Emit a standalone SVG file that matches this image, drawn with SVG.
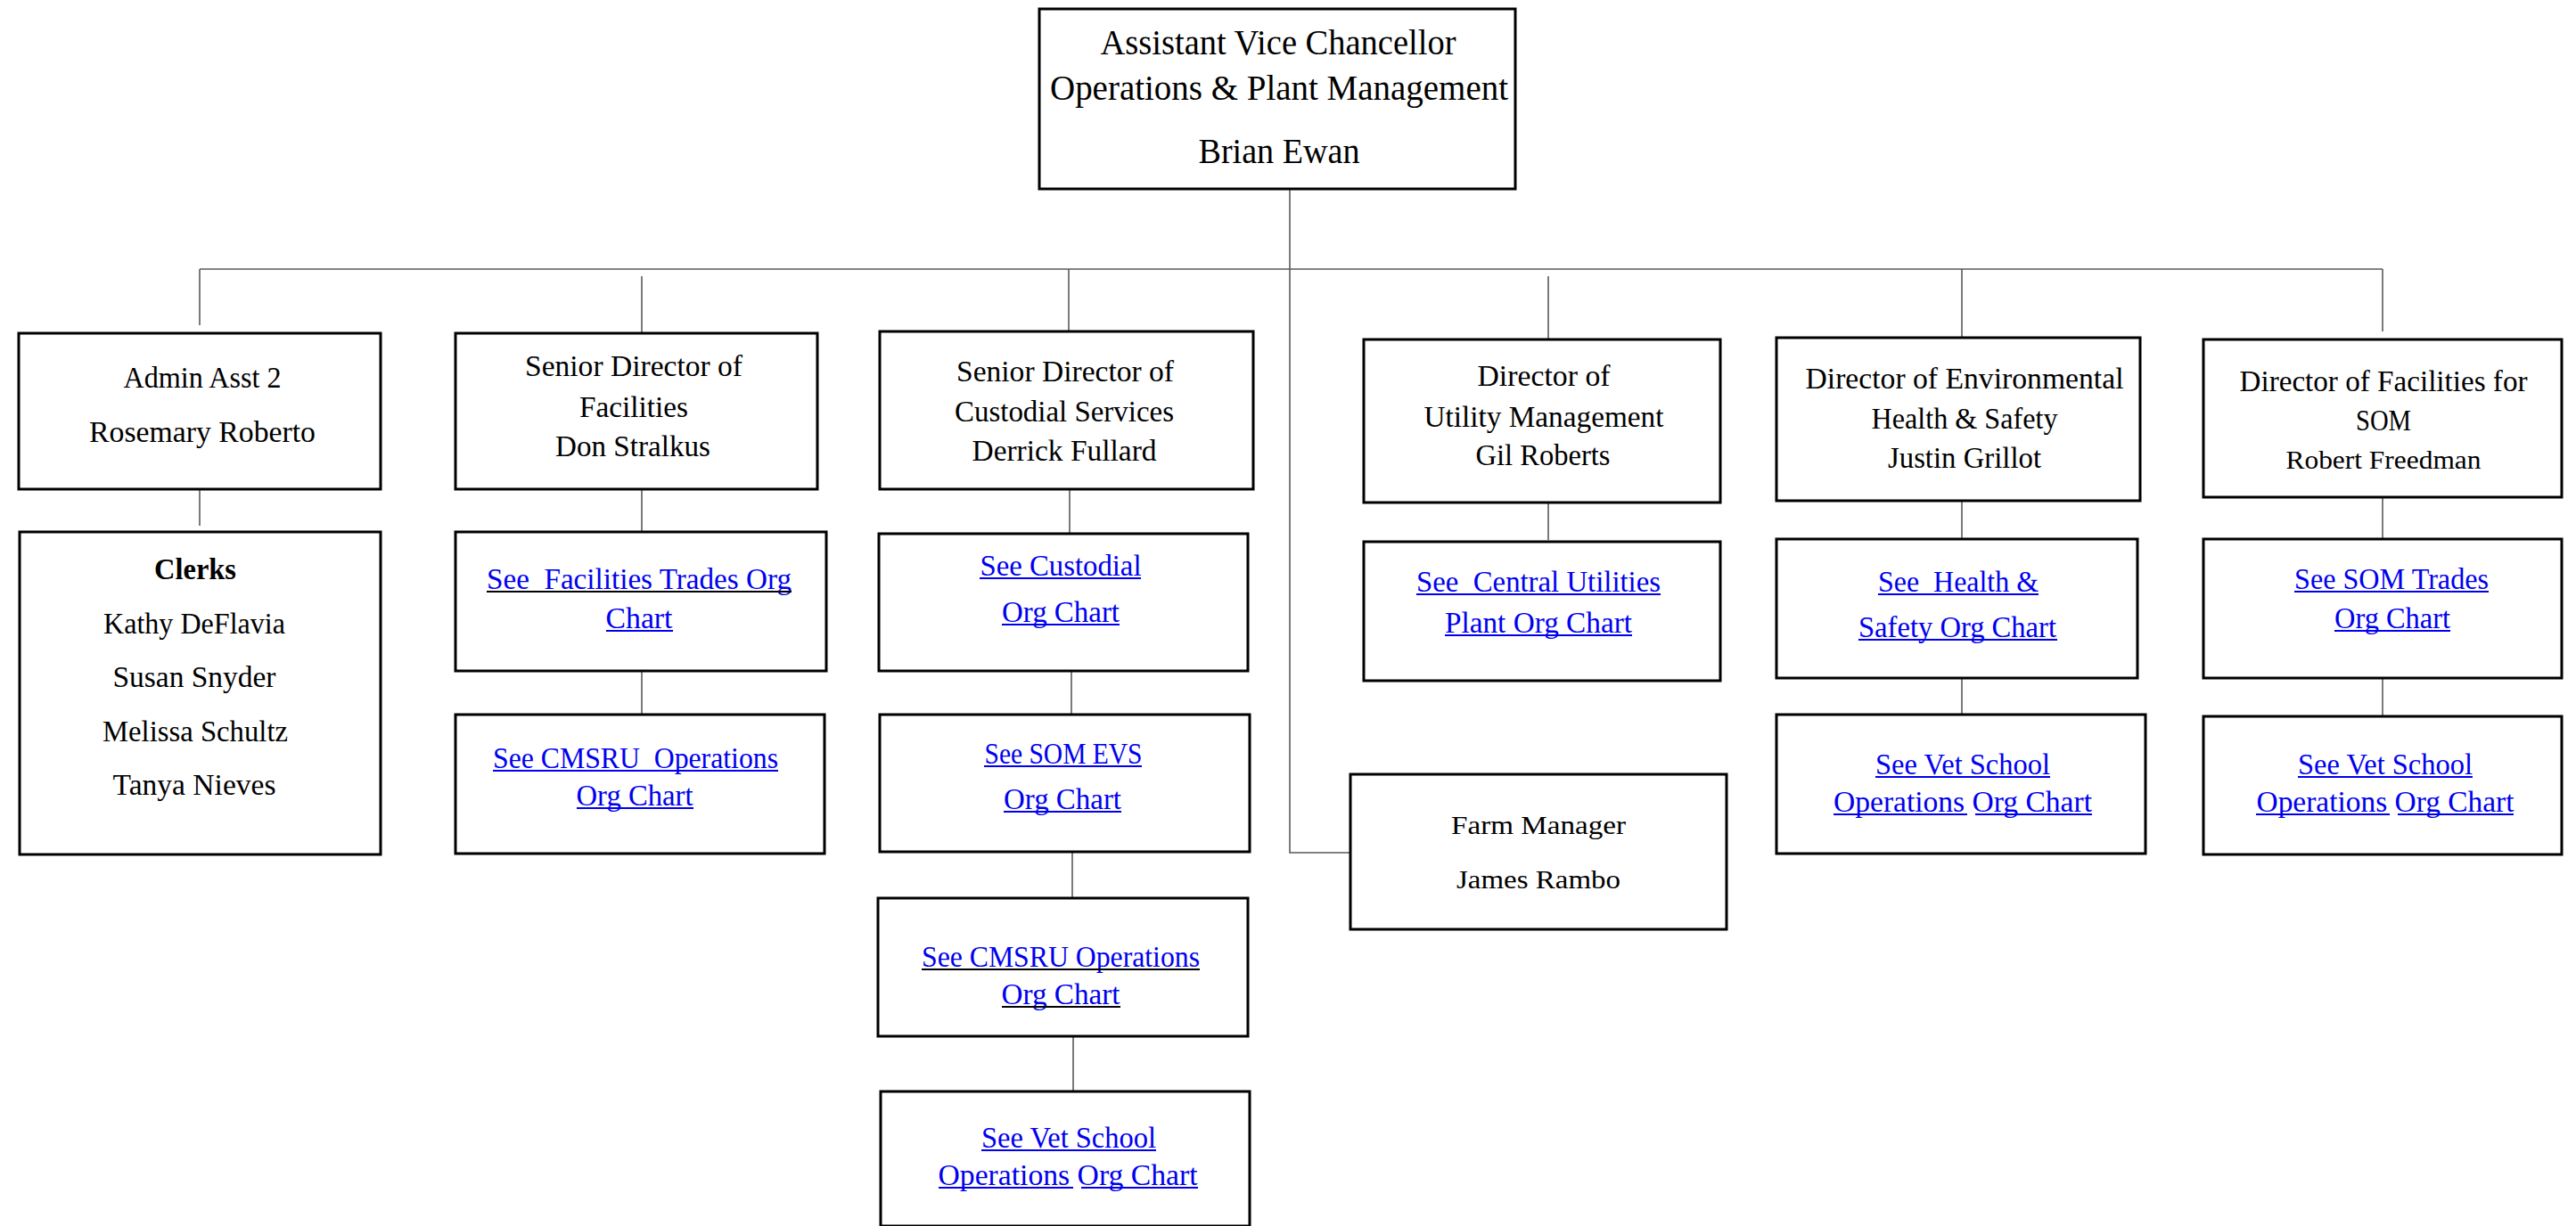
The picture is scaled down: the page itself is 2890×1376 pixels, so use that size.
<svg xmlns="http://www.w3.org/2000/svg" width="2890" height="1376" viewBox="0 0 2890 1376">
<style>
.box{fill:#fff;stroke:#000;stroke-width:3}
.t{font-family:"Liberation Serif","Times New Roman",serif;font-size:33px;text-anchor:middle;fill:#000;white-space:pre}
.lk{fill:#0000ee}
.ul{stroke:#0000ee;stroke-width:2}
.ulk{stroke:#000;stroke-width:2}
.conn{stroke:#5a5a5a;stroke-width:1.6;fill:none}
</style>
<rect width="2890" height="1376" fill="#fff"/>
<g id="connectors" class="conn">
<path d="M1447 212V957H1515"/>
<path d="M224 302H2673"/>
<path d="M224 302V365"/>
<path d="M720 310V374"/>
<path d="M1199 302V372"/>
<path d="M1737 310V381"/>
<path d="M2201 302V379"/>
<path d="M2673 302V372"/>
<path d="M224 549V590"/>
<path d="M720 549V597M720 753V802"/>
<path d="M1200 549V599M1202 753V802M1203 956V1008M1204 1163V1225"/>
<path d="M1737 564V606"/>
<path d="M2201 562V605M2201 761V802"/>
<path d="M2673 558V605M2673 761V804"/>
</g>
<g id="avc">
<rect class="box" x="1166" y="10" width="534" height="202"/>
<text class="t" style="font-size:39px" x="1434" y="61" textLength="399" lengthAdjust="spacingAndGlyphs">Assistant Vice Chancellor</text>
<text class="t" style="font-size:39px" x="1435" y="112" textLength="514" lengthAdjust="spacingAndGlyphs">Operations &amp; Plant Management</text>
<text class="t" style="font-size:39px" x="1435" y="183" textLength="181" lengthAdjust="spacingAndGlyphs">Brian Ewan</text>
</g>
<g id="admin">
<rect class="box" x="21" y="374" width="406" height="175"/>
<text class="t" x="227" y="435" textLength="177" lengthAdjust="spacingAndGlyphs">Admin Asst 2</text>
<text class="t" x="227" y="496" textLength="254" lengthAdjust="spacingAndGlyphs">Rosemary Roberto</text>
</g>
<g id="clerks">
<rect class="box" x="22" y="597" width="405" height="362"/>
<text class="t" style="font-weight:bold" x="219" y="650" textLength="92" lengthAdjust="spacingAndGlyphs">Clerks</text>
<text class="t" x="218" y="711" textLength="204" lengthAdjust="spacingAndGlyphs">Kathy DeFlavia</text>
<text class="t" x="218" y="771" textLength="183" lengthAdjust="spacingAndGlyphs">Susan Snyder</text>
<text class="t" x="219" y="832" textLength="208" lengthAdjust="spacingAndGlyphs">Melissa Schultz</text>
<text class="t" x="218" y="892" textLength="183" lengthAdjust="spacingAndGlyphs">Tanya Nieves</text>
</g>
<g id="facilities">
<rect class="box" x="511" y="374" width="406" height="175"/>
<text class="t" x="711" y="422" textLength="244" lengthAdjust="spacingAndGlyphs">Senior Director of</text>
<text class="t" x="711" y="468" textLength="122" lengthAdjust="spacingAndGlyphs">Facilities</text>
<text class="t" x="710" y="512" textLength="174" lengthAdjust="spacingAndGlyphs">Don Stralkus</text>
</g>
<g id="facilities-trades">
<rect class="box" x="511" y="597" width="416" height="156"/>
<text class="t lk" x="717" y="661" textLength="342" lengthAdjust="spacingAndGlyphs">See  Facilities Trades Org</text>
<line class="ulk" x1="546" y1="664" x2="888" y2="664"/>
<text class="t lk" x="717" y="705" textLength="75" lengthAdjust="spacingAndGlyphs">Chart</text>
<line class="ul" x1="680" y1="708" x2="755" y2="708"/>
</g>
<g id="facilities-cmsru">
<rect class="box" x="511" y="802" width="414" height="156"/>
<text class="t lk" x="713" y="862" textLength="320" lengthAdjust="spacingAndGlyphs">See CMSRU  Operations</text>
<line class="ul" x1="553" y1="865" x2="873" y2="865"/>
<text class="t lk" x="712" y="904" textLength="131" lengthAdjust="spacingAndGlyphs">Org Chart</text>
<line class="ul" x1="647" y1="907" x2="778" y2="907"/>
</g>
<g id="custodial">
<rect class="box" x="987" y="372" width="419" height="177"/>
<text class="t" x="1195" y="428" textLength="244" lengthAdjust="spacingAndGlyphs">Senior Director of</text>
<text class="t" x="1194" y="473" textLength="246" lengthAdjust="spacingAndGlyphs">Custodial Services</text>
<text class="t" x="1194" y="517" textLength="207" lengthAdjust="spacingAndGlyphs">Derrick Fullard</text>
</g>
<g id="custodial-chart">
<rect class="box" x="986" y="599" width="414" height="154"/>
<text class="t lk" x="1190" y="646" textLength="181" lengthAdjust="spacingAndGlyphs">See Custodial</text>
<line class="ul" x1="1099" y1="649" x2="1280" y2="649"/>
<text class="t lk" x="1190" y="698" textLength="132" lengthAdjust="spacingAndGlyphs">Org Chart</text>
<line class="ul" x1="1124" y1="701" x2="1256" y2="701"/>
</g>
<g id="som-evs">
<rect class="box" x="987" y="802" width="415" height="154"/>
<text class="t lk" x="1193" y="857" textLength="177" lengthAdjust="spacingAndGlyphs">See SOM EVS</text>
<line class="ul" x1="1104" y1="860" x2="1281" y2="860"/>
<text class="t lk" x="1192" y="908" textLength="132" lengthAdjust="spacingAndGlyphs">Org Chart</text>
<line class="ul" x1="1126" y1="911" x2="1258" y2="911"/>
</g>
<g id="custodial-cmsru">
<rect class="box" x="985" y="1008" width="415" height="155"/>
<text class="t lk" x="1190" y="1085" textLength="312" lengthAdjust="spacingAndGlyphs">See CMSRU Operations</text>
<line class="ulk" x1="1034" y1="1088" x2="1346" y2="1088"/>
<text class="t lk" x="1190" y="1127" textLength="133" lengthAdjust="spacingAndGlyphs">Org Chart</text>
<line class="ulk" x1="1124" y1="1130" x2="1257" y2="1130"/>
</g>
<g id="custodial-vet">
<rect class="box" x="988" y="1225" width="414" height="151"/>
<text class="t lk" x="1199" y="1288" textLength="196" lengthAdjust="spacingAndGlyphs">See Vet School</text>
<line class="ul" x1="1101" y1="1291" x2="1297" y2="1291"/>
<text class="t lk" x="1198" y="1330" textLength="291" lengthAdjust="spacingAndGlyphs">Operations Org Chart</text>
<line class="ul" x1="1053" y1="1333" x2="1204" y2="1333"/>
<line class="ul" x1="1213" y1="1333" x2="1344" y2="1333"/>
</g>
<g id="utility">
<rect class="box" x="1530" y="381" width="400" height="183"/>
<text class="t" x="1732" y="433" textLength="149" lengthAdjust="spacingAndGlyphs">Director of</text>
<text class="t" x="1732" y="479" textLength="269" lengthAdjust="spacingAndGlyphs">Utility Management</text>
<text class="t" x="1731" y="522" textLength="151" lengthAdjust="spacingAndGlyphs">Gil Roberts</text>
</g>
<g id="central-utilities">
<rect class="box" x="1530" y="608" width="400" height="156"/>
<text class="t lk" x="1726" y="664" textLength="274" lengthAdjust="spacingAndGlyphs">See  Central Utilities</text>
<line class="ul" x1="1589" y1="667" x2="1863" y2="667"/>
<text class="t lk" x="1726" y="710" textLength="210" lengthAdjust="spacingAndGlyphs">Plant Org Chart</text>
<line class="ul" x1="1621" y1="713" x2="1831" y2="713"/>
</g>
<g id="farm">
<rect class="box" x="1515" y="869" width="422" height="174"/>
<text class="t" style="font-size:30px" x="1726" y="936" textLength="196" lengthAdjust="spacingAndGlyphs">Farm Manager</text>
<text class="t" style="font-size:30px" x="1726" y="997" textLength="184" lengthAdjust="spacingAndGlyphs">James Rambo</text>
</g>
<g id="ehs">
<rect class="box" x="1993" y="379" width="408" height="183"/>
<text class="t" x="2204" y="436" textLength="357" lengthAdjust="spacingAndGlyphs">Director of Environmental</text>
<text class="t" x="2204" y="481" textLength="209" lengthAdjust="spacingAndGlyphs">Health &amp; Safety</text>
<text class="t" x="2204" y="525" textLength="172" lengthAdjust="spacingAndGlyphs">Justin Grillot</text>
</g>
<g id="ehs-chart">
<rect class="box" x="1993" y="605" width="405" height="156"/>
<text class="t lk" x="2197" y="664" textLength="180" lengthAdjust="spacingAndGlyphs">See  Health &amp;</text>
<line class="ul" x1="2107" y1="667" x2="2287" y2="667"/>
<text class="t lk" x="2196" y="715" textLength="222" lengthAdjust="spacingAndGlyphs">Safety Org Chart</text>
<line class="ul" x1="2085" y1="718" x2="2308" y2="718"/>
</g>
<g id="ehs-vet">
<rect class="box" x="1993" y="802" width="414" height="156"/>
<text class="t lk" x="2202" y="869" textLength="196" lengthAdjust="spacingAndGlyphs">See Vet School</text>
<line class="ul" x1="2104" y1="872" x2="2300" y2="872"/>
<text class="t lk" x="2202" y="911" textLength="290" lengthAdjust="spacingAndGlyphs">Operations Org Chart</text>
<line class="ul" x1="2057" y1="914" x2="2207" y2="914"/>
<line class="ul" x1="2216" y1="914" x2="2347" y2="914"/>
</g>
<g id="som">
<rect class="box" x="2472" y="381" width="402" height="177"/>
<text class="t" x="2674" y="439" textLength="323" lengthAdjust="spacingAndGlyphs">Director of Facilities for</text>
<text class="t" x="2674" y="483" textLength="62" lengthAdjust="spacingAndGlyphs">SOM</text>
<text class="t" style="font-size:29px" x="2674" y="526" textLength="219" lengthAdjust="spacingAndGlyphs">Robert Freedman</text>
</g>
<g id="som-trades">
<rect class="box" x="2472" y="605" width="402" height="156"/>
<text class="t lk" x="2683" y="661" textLength="218" lengthAdjust="spacingAndGlyphs">See SOM Trades</text>
<line class="ul" x1="2574" y1="664" x2="2792" y2="664"/>
<text class="t lk" x="2684" y="705" textLength="130" lengthAdjust="spacingAndGlyphs">Org Chart</text>
<line class="ul" x1="2619" y1="708" x2="2749" y2="708"/>
</g>
<g id="som-vet">
<rect class="box" x="2472" y="804" width="402" height="155"/>
<text class="t lk" x="2676" y="869" textLength="196" lengthAdjust="spacingAndGlyphs">See Vet School</text>
<line class="ul" x1="2578" y1="872" x2="2774" y2="872"/>
<text class="t lk" x="2676" y="911" textLength="289" lengthAdjust="spacingAndGlyphs">Operations Org Chart</text>
<line class="ul" x1="2531" y1="914" x2="2681" y2="914"/>
<line class="ul" x1="2690" y1="914" x2="2820" y2="914"/>
</g>
</svg>
